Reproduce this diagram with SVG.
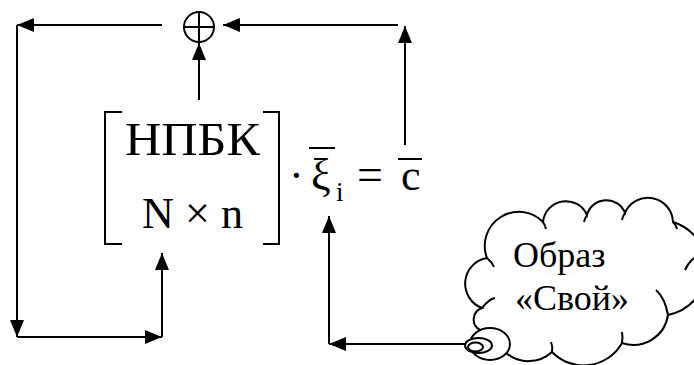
<svg xmlns="http://www.w3.org/2000/svg" width="694" height="365" viewBox="0 0 694 365">
<defs>
<marker id="ah" markerUnits="userSpaceOnUse" markerWidth="17" markerHeight="14" refX="17" refY="7" orient="auto">
<path d="M0,0 L17,7 L0,14 Z" fill="#000"/>
</marker>
<style>
.ln{stroke:#000;stroke-width:2;fill:none}
.ar{stroke:#000;stroke-width:2;fill:none;marker-end:url(#ah)}
</style>
</defs>
<rect width="694" height="365" fill="#fff"/>

<g id="connectors">
<line class="ar" x1="162" y1="25" x2="17" y2="25"/>
<line class="ar" x1="17" y1="25" x2="17" y2="337"/>
<line class="ar" x1="17" y1="337" x2="162" y2="337"/>
<line class="ar" x1="162" y1="337" x2="162" y2="253"/>
<line class="ar" x1="199" y1="100" x2="199" y2="43"/>
<line class="ar" x1="405" y1="145" x2="405" y2="26"/>
<line class="ar" x1="398" y1="25" x2="223" y2="25"/>
<line class="ar" x1="465" y1="344" x2="329" y2="344"/>
<line class="ar" x1="329" y1="344" x2="329" y2="216"/>
</g>

<g id="sum">
<circle class="ln" cx="199" cy="27" r="15"/>
<line class="ln" x1="184" y1="27" x2="214" y2="27"/>
<line class="ln" x1="199" y1="12" x2="199" y2="42"/>
</g>

<g id="matrix">
<path class="ln" d="M122,112 H105 V244 H122"/>
<path class="ln" d="M263,112 H279 V244 H263"/>
<text x="125" y="155" font-size="47" font-family="Liberation Serif" textLength="135" lengthAdjust="spacingAndGlyphs">НПБК</text>
<text x="142" y="228" font-size="45" font-family="Liberation Serif" textLength="101" lengthAdjust="spacingAndGlyphs">N × n</text>
</g>

<g id="equation" font-family="Liberation Serif">
<text x="289" y="190" font-size="44" font-family="Liberation Serif">·</text>
<text x="311" y="189" font-size="44" font-family="Liberation Serif">ξ</text>
<line class="ln" x1="309" y1="148" x2="335" y2="148"/>
<text x="336" y="201" font-size="27" font-family="Liberation Serif">i</text>
<text x="357" y="190" font-size="46" font-family="Liberation Serif">=</text>
<text x="401" y="190" font-size="44" font-family="Liberation Serif">c</text>
<line class="ln" x1="398" y1="159" x2="422" y2="159"/>
</g>

<g id="cloud">
<path d="M480,330 A12,12 0 0 1 482,308 A26,26 0 0 1 487,258 A34,34 0 0 1 543,222 A23,23 0 0 1 587,215 A20,20 0 0 1 625,213 A25,25 0 0 1 673,222 A48,48 0 0 1 668,315 A35,35 0 0 1 622,343 A44,44 0 0 1 552,352 A35,35 0 0 1 506,353 Z" fill="#fff" stroke="#000" stroke-width="2"/>
<path class="ln" d="M482,308 Q489,299 495,298"/>
<path class="ln" d="M487,258 Q492,262 494,267"/>
<path class="ln" d="M543,222 Q545,225 546,229"/>
<path class="ln" d="M587,215 Q585,218 584,222"/>
<path class="ln" d="M625,213 Q623,216 622,220"/>
<path class="ln" d="M673,222 Q676,225 677,229"/>
<path class="ln" d="M668,315 Q665,298 656,290"/>
<path class="ln" d="M694,258 Q688,263 685,270"/>
<path class="ln" d="M622,343 Q623,337 622,332"/>
<path class="ln" d="M552,352 Q553,347 551,342"/>
<ellipse cx="490" cy="344" rx="20" ry="16" fill="#fff" stroke="#000" stroke-width="2"/>
<ellipse cx="478.5" cy="345.5" rx="13.5" ry="7.5" fill="#fff" stroke="#000" stroke-width="2"/>
<ellipse cx="475.5" cy="347" rx="7.5" ry="4.5" fill="none" stroke="#000" stroke-width="2"/>
<text x="513" y="267" font-size="36" font-family="Liberation Serif">Образ</text>
<text x="515" y="310" font-size="36" font-family="Liberation Serif">«Свой»</text>
</g>
</svg>
